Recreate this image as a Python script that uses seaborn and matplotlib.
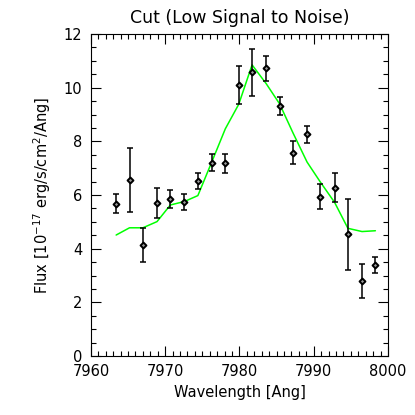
"""
Flux cut around the line, low signal-to-noise case.
"""

import numpy as np
import pandas as pd
import matplotlib
matplotlib.use('Agg')
import matplotlib.pyplot as plt
from matplotlib.ticker import MultipleLocator
import seaborn as sns

# measured points
wavelength = [7963.4, 7965.2, 7967.0, 7968.9, 7970.7, 7972.6, 7974.4, 7976.3,
              7978.1, 7979.9, 7981.7, 7983.6, 7985.4, 7987.2, 7989.1, 7990.9,
              7992.8, 7994.6, 7996.5, 7998.3]
flux = [5.68, 6.57, 4.15, 5.71, 5.86, 5.74, 6.53, 7.20, 7.19, 10.09,
        10.57, 10.72, 9.32, 7.58, 8.26, 5.94, 6.27, 4.53, 2.80, 3.41]
flux_err = [0.36, 1.20, 0.64, 0.57, 0.34, 0.29, 0.29, 0.32, 0.35, 0.71,
            0.87, 0.46, 0.32, 0.42, 0.31, 0.47, 0.54, 1.33, 0.63, 0.30]

# model curve (green)
model = [4.51, 4.78, 4.78, 5.01, 5.63, 5.76, 5.98, 7.25, 8.47, 9.38,
         10.85, 10.15, 9.40, 8.32, 7.23, 6.48, 5.73, 4.76, 4.64, 4.67]

df = pd.DataFrame({'wave': wavelength, 'flux': flux, 'err': flux_err, 'model': model})

sns.set_style('ticks', {'text.color': 'black', 'axes.labelcolor': 'black',
                        'xtick.color': 'black', 'ytick.color': 'black',
                        'axes.edgecolor': 'black'})
plt.rcParams['font.family'] = ['DejaVu Sans']

fig, ax = plt.subplots(figsize=(4.15, 4.15), dpi=100)
fig.subplots_adjust(left=0.219, right=0.935, bottom=0.142, top=0.918)

sns.lineplot(data=df, x='wave', y='model', color='#00ff00', linewidth=1.1,
             ax=ax, zorder=2)
ax.errorbar(df['wave'], df['flux'], yerr=df['err'], fmt='none', ecolor='black',
            elinewidth=1.1, capsize=2.2, capthick=1.1, zorder=3)
sns.scatterplot(data=df, x='wave', y='flux', marker='D', s=9, color='#999999',
                edgecolor='black', linewidth=1.4, ax=ax, zorder=4)

ax.set_xlim(7960, 8000)
ax.set_ylim(0, 12)
ax.xaxis.set_major_locator(MultipleLocator(10))
ax.xaxis.set_minor_locator(MultipleLocator(1))
ax.yaxis.set_major_locator(MultipleLocator(2))
ax.yaxis.set_minor_locator(MultipleLocator(0.5))
ax.tick_params(which='both', direction='in', top=True, right=True,
               labelsize=10.5, width=0.8, pad=6, colors='black')
ax.tick_params(which='major', length=7)
ax.tick_params(which='minor', length=3.5)
for sp in ax.spines.values():
    sp.set_linewidth(0.8)
    sp.set_color('black')

ax.set_xlabel('Wavelength [Ang]', fontsize=10.5, color='black')
ax.set_ylabel('Flux [10$^{-17}$ erg/s/cm$^2$/Ang]', fontsize=10.5,
              labelpad=8, color='black')
ax.set_title('Cut (Low Signal to Noise)', fontsize=12.5, pad=8, color='black')

plt.savefig('out.png', dpi=100)
